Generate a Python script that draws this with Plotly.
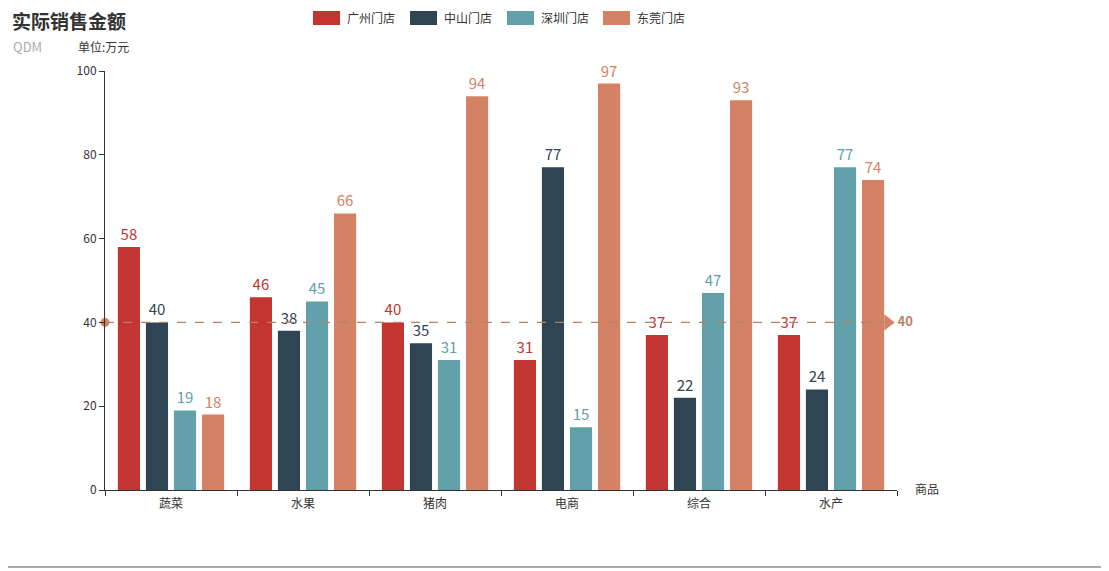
import plotly.graph_objects as go

categories = ["蔬菜", "水果", "猪肉", "电商", "综合", "水产"]
series_names = ["广州门店", "中山门店", "深圳门店", "东莞门店"]
guangzhou = [58, 46, 40, 31, 37, 37]
zhongshan = [40, 38, 35, 77, 22, 24]
shenzhen = [19, 45, 31, 15, 47, 77]
dongguan = [18, 66, 94, 97, 93, 74]
colors = ["#c23531", "#2f4554", "#61a0a8", "#d48265"]
mark_value = 40
y_ticks = [0, 20, 40, 60, 80, 100]

FONT = "Noto Sans CJK SC, Microsoft YaHei, sans-serif"

fig = go.Figure()
for name, vals, c in zip(series_names, [guangzhou, zhongshan, shenzhen, dongguan], colors):
    fig.add_trace(go.Bar(
        x=categories, y=vals, name=name, marker=dict(color=c, line=dict(width=0)),
        text=[str(v) for v in vals], textposition="outside",
        textfont=dict(color=c, size=15, family=FONT), cliponaxis=False,
        showlegend=False,
    ))

# mark line at 40
fig.add_trace(go.Scatter(
    x=[-0.5, 5.45], y=[mark_value, mark_value], mode="lines",
    line=dict(color="#b3806c", width=1.2, dash="dash"), xaxis="x2",
    showlegend=False, hoverinfo="skip", cliponaxis=False,
))
fig.add_trace(go.Scatter(
    x=[-0.5], y=[mark_value], mode="markers", xaxis="x2",
    marker=dict(symbol="circle", size=9, color="#d48265"),
    showlegend=False, hoverinfo="skip", cliponaxis=False,
))
fig.add_trace(go.Scatter(
    x=[5.43], y=[mark_value], mode="markers+text", xaxis="x2",
    marker=dict(symbol="triangle-right", size=14, color="#d48265"),
    text=["<b>" + str(mark_value) + "</b>"], textposition="middle right",
    textfont=dict(color="#c08068", size=13, family=FONT),
    showlegend=False, hoverinfo="skip", cliponaxis=False,
))

shapes = []
annotations = []
# custom legend (page px converted to plot-area paper fractions)
leg_x = [313, 410, 507, 603]
for lx, name, c in zip(leg_x, series_names, colors):
    shapes.append(dict(type="rect", xref="paper", yref="paper",
                       x0=(lx - 105) / 792, x1=(lx + 27 - 105) / 792,
                       y0=(490 - 25) / 419, y1=(490 - 11) / 419,
                       fillcolor=c, line=dict(width=0), layer="above"))
    annotations.append(dict(text=name, xref="paper", yref="paper",
                            x=(lx + 32 - 105) / 792, y=(490 - 18) / 419,
                            xanchor="left", yanchor="middle", showarrow=False,
                            font=dict(size=12, color="#333", family=FONT)))
# bottom gray line
shapes.append(dict(type="line", xref="paper", yref="paper",
                   x0=-105 / 792, x1=(1109 - 105) / 792,
                   y0=(490 - 567) / 419, y1=(490 - 567) / 419,
                   line=dict(color="#aaaaaa", width=2)))

annotations += [
    dict(text="<b>实际销售金额</b>", xref="paper", yref="paper",
         x=(11 - 105) / 792, y=(490 - 21) / 419, xanchor="left", yanchor="middle",
         showarrow=False, borderpad=0, font=dict(size=19, color="#333", family=FONT)),
    dict(text="QDM", xref="paper", yref="paper",
         x=(11 - 105) / 792, y=(490 - 47) / 419, xanchor="left", yanchor="middle",
         showarrow=False, font=dict(size=13, color="#aaa", family=FONT)),
    dict(text="单位:万元", xref="paper", yref="paper",
         x=(76 - 105) / 792, y=(490 - 47) / 419, xanchor="left", yanchor="middle",
         showarrow=False, font=dict(size=12, color="#333", family=FONT)),
    dict(text="商品", xref="paper", yref="paper",
         x=(913 - 105) / 792, y=(490 - 488) / 419, xanchor="left", yanchor="middle",
         showarrow=False, font=dict(size=12, color="#333", family=FONT)),
]

fig.update_layout(
    width=1101, height=563,
    margin=dict(l=97, r=212, t=63, b=81),
    plot_bgcolor="white", paper_bgcolor="white",
    barmode="group", bargap=0.15, bargroupgap=0.21,
    font=dict(family=FONT, color="#333", size=12),
    xaxis=dict(type="category", range=[-0.5, 5.5], showgrid=False,
               showline=True, linecolor="#333", linewidth=1,
               ticks="outside", ticklen=5, tickcolor="#333", tickson="boundaries",
               ticklabelstandoff=3,
               tickfont=dict(size=12, color="#333"), fixedrange=True),
    xaxis2=dict(overlaying="x", range=[-0.5, 5.5], visible=False, showgrid=False),
    yaxis=dict(range=[0, 100], tickvals=y_ticks, showgrid=False, zeroline=False,
               showline=True, linecolor="#333", linewidth=1,
               ticks="outside", ticklen=5, tickcolor="#333",
               tickfont=dict(size=12, color="#333")),
    shapes=shapes, annotations=annotations,
)

fig.write_html("out.html")
